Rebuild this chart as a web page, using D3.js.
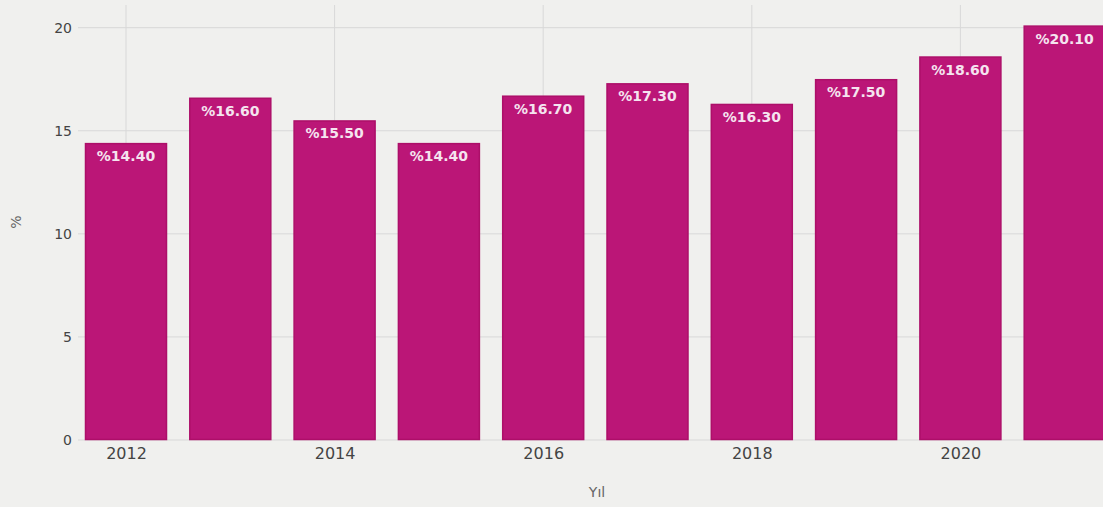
<!DOCTYPE html>
<html><head><meta charset="utf-8">
<script src="https://cdn.jsdelivr.net/npm/d3@7"></script>
<style>
html,body{margin:0;padding:0;background:#f0f0ee;overflow:hidden}
text{font-family:"DejaVu Sans",sans-serif}
</style></head>
<body><svg id="c" width="1103" height="507"></svg>
<script>
const years = [2012,2013,2014,2015,2016,2017,2018,2019,2020,2021];
const values = [14.4,16.6,15.5,14.4,16.7,17.3,16.3,17.5,18.6,20.1];
const xTicks = [2012,2014,2016,2018,2020];
const yTicks = [0,5,10,15,20];
const yTitle = "%";
const xTitle = "Yıl";

(function(){
const svg = d3.select("#c");
const W = 1103, H = 507;
svg.append("rect").attr("width",W).attr("height",H).attr("fill","#f0f0ee");

const mLeft = 78, mTop = 5, mBottom = 440;
const x = d3.scaleLinear().domain([2012,2021]).range([126,1064.7]);
const y = d3.scaleLinear().domain([0,21.1]).range([mBottom, mTop]);
const bw = 82;

svg.append("g").selectAll("line").data(yTicks).join("line")
  .attr("x1",mLeft).attr("x2",W).attr("y1",d=>y(d)).attr("y2",d=>y(d))
  .attr("stroke","#d8d8d8").attr("stroke-width",1);
svg.append("g").selectAll("line").data(xTicks).join("line")
  .attr("x1",d=>x(d)).attr("x2",d=>x(d)).attr("y1",mTop).attr("y2",mBottom)
  .attr("stroke","#d8d8d8").attr("stroke-width",1);

svg.append("g").selectAll("rect").data(values).join("rect")
  .attr("x",(d,i)=>x(years[i])-bw/2+0.5)
  .attr("y",d=>y(d)+0.5)
  .attr("width",bw-1)
  .attr("height",d=>y(0)-y(d)-1)
  .attr("fill","#bb1677").attr("stroke","#ad0f69").attr("stroke-width",1.5);

svg.append("g").selectAll("text").data(values).join("text")
  .attr("x",(d,i)=>x(years[i]))
  .attr("y",d=>y(d)+18)
  .attr("text-anchor","middle")
  .attr("font-size",14).attr("font-weight","bold")
  .attr("fill","#f5e4ef")
  .text(d=>"%"+d.toFixed(2));

const ya = svg.append("g").attr("transform",`translate(${mLeft},0)`)
  .call(d3.axisLeft(y).tickValues(yTicks).tickSize(0).tickPadding(6));
ya.select(".domain").remove();
ya.selectAll("text").attr("font-size",14).attr("fill","#444").attr("font-family","Liberation Sans, Arial, sans-serif");

const xa = svg.append("g").attr("transform",`translate(0,${mBottom})`)
  .call(d3.axisBottom(x).tickValues(xTicks).tickFormat(d3.format("d")).tickSize(0).tickPadding(8));
xa.select(".domain").remove();
xa.selectAll("text").attr("font-size",16).attr("fill","#444").attr("font-family","Liberation Sans, Arial, sans-serif");

svg.append("text").attr("transform","translate(21,222) rotate(-90)")
  .attr("text-anchor","middle").attr("font-size",14).attr("fill","#666")
  .attr("font-family","Liberation Sans, Arial, sans-serif").text(yTitle);
svg.append("text").attr("x",597).attr("y",497)
  .attr("text-anchor","middle").attr("font-size",14).attr("fill","#666")
  .attr("font-family","Liberation Sans, Arial, sans-serif").text(xTitle);
})();
</script></body></html>
